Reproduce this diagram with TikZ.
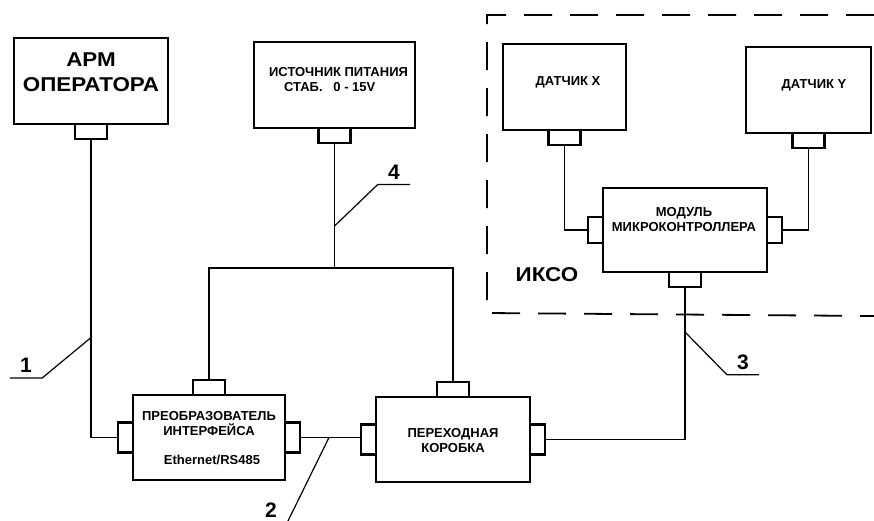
\documentclass[tikz,border=0pt]{standalone}
\usepackage{fontspec}
\setmainfont{Liberation Sans}
\newfontfamily\shirokij[FakeStretch=1.12]{Liberation Sans}
\usetikzlibrary{positioning}

\begin{document}
\begin{tikzpicture}[
  x=1pt, y=-1pt,
  font=\bfseries,
  blok/.style={draw, line width=2.6pt, outer sep=0pt, minimum height=86pt},
  gnezdo/.style={draw, line width=2.2pt, fill=white, outer sep=0pt, inner sep=0pt,
    minimum width=32pt, minimum height=15pt},
  bokgnezdo/.style={gnezdo, minimum width=15pt, minimum height=30pt},
  nadpis/.style={align=center, inner sep=0pt, font=\bfseries\fontsize{13}{15}\selectfont},
  krupno/.style={align=center, inner sep=0pt, font=\shirokij\bfseries\fontsize{20}{25}\selectfont},
  nomer/.style={inner xsep=1pt, inner ysep=5pt, minimum width=32pt,
    font=\bfseries\fontsize{21}{25}\selectfont},
  provod/.style={line width=1.2pt},
  vynoska/.style={line width=1.2pt},
  ramka/.style={line width=1.8pt, dash pattern=on 28pt off 18pt},
]
\useasboundingbox (0,0) rectangle (874,520);

% --- Блоки ---
\node[blok, minimum width=154pt] (arm) at (91,81) {};
\node[blok, minimum width=161pt] (pwr) at (334.5,85) {};
\node[blok, minimum width=123pt] (dx) at (564.5,87) {};
\node[blok, minimum width=125pt] (dy) at (808.5,90) {};
\node[blok, minimum width=164pt, minimum height=84pt] (mk) at (685,230) {};
\node[blok, minimum width=152pt, minimum height=85pt] (pi) at (209,437.5) {};
\node[blok, minimum width=154pt, minimum height=85pt] (pk) at (453,439.5) {};

% --- Надписи в блоках ---
\node[krupno] (armT) at (91,72.5) {АРМ\\ОПЕРАТОРА};
\node[nadpis, align=left] (pwrT) at (338.5,79.5) {ИСТОЧНИК ПИТАНИЯ\\\hspace*{15pt}СТАБ.~~~0 - 15V};
\node[nadpis] (dxT) at (568,82) {ДАТЧИК X};
\node[nadpis] (dyT) at (814,85) {ДАТЧИК Y};
\node[nadpis] (mkT) at (684,220) {МОДУЛЬ\\МИКРОКОНТРОЛЛЕРА};
\node[nadpis] (piT1) at (209,424) {ПРЕОБРАЗОВАТЕЛЬ\\ИНТЕРФЕЙСА};
\node[nadpis] (piT2) at (212,460) {Ethernet/RS485};
\node[nadpis] (pkT1) at (453,440.5) {ПЕРЕХОДНАЯ\\КОРОБКА};
\node[krupno] (ikso) at (547,275) {ИКСО};

% --- Разъёмы ---
\node[gnezdo, below=0pt of arm] (armP) {};
\node[gnezdo, below=0pt of pwr] (pwrP) {};
\node[gnezdo, below=0pt of dx] (dxP) {};
\node[gnezdo, below=0pt of dy] (dyP) {};
\node[gnezdo, below=0pt of mk] (mkB) {};
\node[bokgnezdo, minimum height=26pt, left=0pt of mk] (mkL) {};
\node[bokgnezdo, minimum height=26pt, right=0pt of mk] (mkR) {};
\node[gnezdo, above=0pt of pi] (piT) {};
\node[bokgnezdo, left=0pt of pi] (piL) {};
\node[bokgnezdo, right=0pt of pi] (piR) {};
\node[gnezdo, above=0pt of pk] (pkT) {};
\node[bokgnezdo, left=0pt of pk] (pkL) {};
\node[bokgnezdo, right=0pt of pk] (pkR) {};

% --- Провода ---
\coordinate (shina) at (334.5,268);
\draw[provod] (armP.south) |- (piL.west);
\draw[provod] (pwrP.south) -- (shina);
\draw[provod] (piT.north) |- (shina) -| (pkT.north);
\draw[provod] (piR.east) -- (piR.east -| pkL.west);
\draw[provod] (mkB.south) |- (pkR.east);
\draw[provod] (dxP.south) |- (mkL.west);
\draw[provod] (dyP.south) |- (mkR.east);

% --- Граница ИКСО ---
\draw[ramka] (874,15) -- (487,15) -- (487,313) -- (874,316);

% --- Выноски ---
\coordinate (t1) at (90.5,338);
\coordinate (t2) at (329,437.5);
\coordinate (t3) at (685,332);
\coordinate (t4) at (334.5,226);
\node[nomer] (n1) at (26,365.5) {1};
\node[nomer] (n2) at (271,510) {2};
\node[nomer] (n3) at (743,362) {3};
\node[nomer] (n4) at (394,172) {4};
\draw[vynoska] (n1.south west) -- (n1.south east) -- (t1);
\draw[vynoska] (n2.south west) -- (n2.south east) -- (t2);
\draw[vynoska] (n3.south east) -- (n3.south west) -- (t3);
\draw[vynoska] (n4.south east) -- (n4.south west) -- (t4);

\end{tikzpicture}
\end{document}
